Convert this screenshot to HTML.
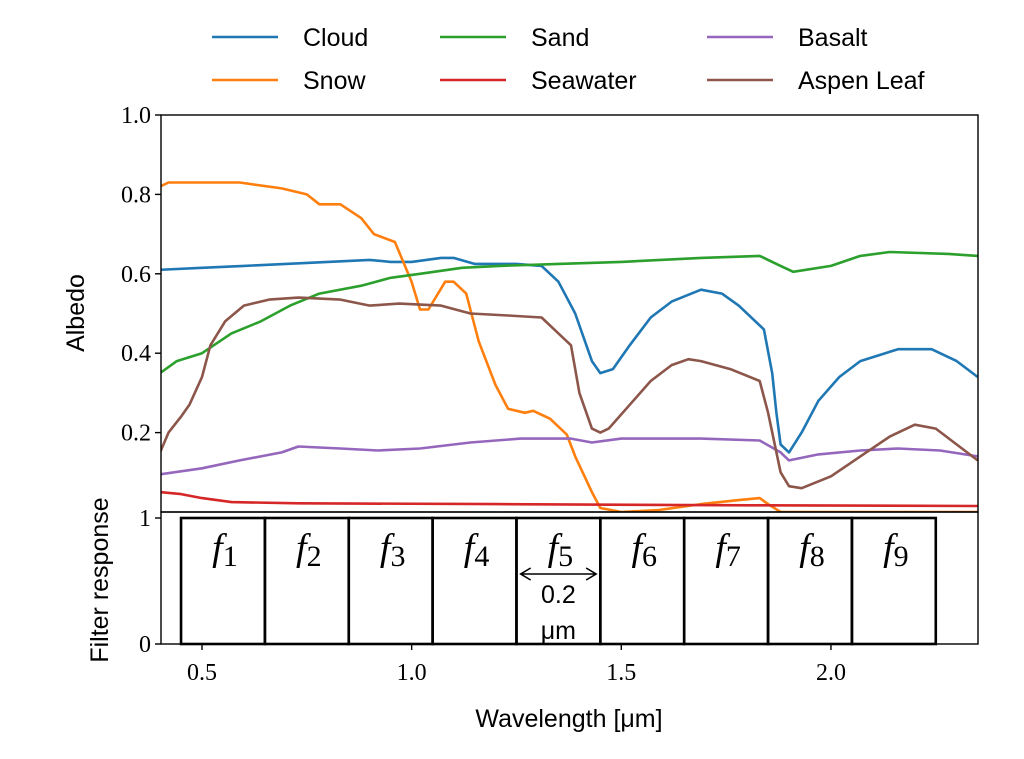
<!DOCTYPE html>
<html><head><meta charset="utf-8"><style>
body{margin:0;background:#fff}
svg{display:block}
.tk{font-family:"Liberation Serif",serif;font-size:24px;fill:#000}
.sn{font-family:"Liberation Sans",sans-serif;font-size:25px;fill:#000}
</style></head><body>
<svg id="c" width="1024" height="759" viewBox="0 0 1024 759" xmlns="http://www.w3.org/2000/svg"></svg>
<script>
const seriesNames=["Cloud","Snow","Sand","Seawater","Basalt","Aspen Leaf"];
const seriesColors=["#1f77b4","#ff7f0e","#2ca02c","#d62728","#9467bd","#8c564b"];
const cloudW=[0.40,0.50,0.60,0.70,0.80,0.90,0.95,1.00,1.07,1.10,1.15,1.25,1.31,1.35,1.39,1.43,1.45,1.48,1.52,1.57,1.62,1.69,1.74,1.78,1.84,1.86,1.87,1.88,1.90,1.93,1.97,2.02,2.07,2.16,2.24,2.30,2.35];
const cloudV=[0.61,0.615,0.62,0.625,0.63,0.635,0.63,0.63,0.64,0.64,0.625,0.625,0.62,0.58,0.50,0.38,0.35,0.36,0.42,0.49,0.53,0.56,0.55,0.52,0.46,0.35,0.25,0.17,0.15,0.20,0.28,0.34,0.38,0.41,0.41,0.38,0.34];
const snowW=[0.40,0.42,0.50,0.59,0.69,0.75,0.78,0.83,0.88,0.91,0.96,1.00,1.02,1.04,1.08,1.10,1.13,1.16,1.20,1.23,1.27,1.29,1.33,1.37,1.39,1.43,1.45,1.50,1.59,1.69,1.78,1.83,1.85,1.88,2.35];
const snowV=[0.82,0.83,0.83,0.83,0.815,0.80,0.775,0.775,0.74,0.70,0.68,0.58,0.51,0.51,0.58,0.58,0.55,0.43,0.32,0.26,0.25,0.255,0.235,0.195,0.14,0.05,0.01,0.0,0.005,0.02,0.03,0.035,0.02,0.0,0.0];
const sandW=[0.40,0.44,0.50,0.57,0.64,0.71,0.78,0.88,0.95,1.02,1.12,1.21,1.35,1.50,1.69,1.83,1.88,1.91,2.00,2.07,2.14,2.28,2.35];
const sandV=[0.35,0.38,0.40,0.45,0.48,0.52,0.55,0.57,0.59,0.60,0.615,0.62,0.625,0.63,0.64,0.645,0.62,0.605,0.62,0.645,0.655,0.65,0.645];
const seaW=[0.40,0.45,0.50,0.57,0.73,1.20,1.80,2.35];
const seaV=[0.05,0.045,0.035,0.025,0.022,0.02,0.017,0.015];
const basaltW=[0.40,0.50,0.59,0.69,0.73,0.83,0.92,1.02,1.14,1.26,1.38,1.43,1.50,1.69,1.83,1.88,1.90,1.97,2.07,2.16,2.26,2.35];
const basaltV=[0.095,0.11,0.13,0.15,0.165,0.16,0.155,0.16,0.175,0.185,0.185,0.175,0.185,0.185,0.18,0.15,0.13,0.145,0.155,0.16,0.155,0.14];
const aspenW=[0.40,0.42,0.45,0.47,0.50,0.52,0.555,0.60,0.66,0.73,0.83,0.90,0.97,1.07,1.14,1.23,1.31,1.34,1.38,1.40,1.43,1.45,1.47,1.52,1.57,1.62,1.66,1.69,1.76,1.83,1.85,1.88,1.90,1.93,2.00,2.07,2.14,2.20,2.25,2.30,2.35];
const aspenV=[0.15,0.20,0.24,0.27,0.34,0.42,0.48,0.52,0.535,0.54,0.535,0.52,0.525,0.52,0.50,0.495,0.49,0.46,0.42,0.30,0.21,0.20,0.21,0.27,0.33,0.37,0.385,0.38,0.36,0.33,0.25,0.10,0.065,0.06,0.09,0.14,0.19,0.22,0.21,0.17,0.13];
const xTicks=[0.5,1.0,1.5,2.0];
const xTickLabels=["0.5","1.0","1.5","2.0"];
const yTicks=[0.2,0.4,0.6,0.8,1.0];
const yTickLabels=["0.2","0.4","0.6","0.8","1.0"];
const filterStarts=[0.45,0.65,0.85,1.05,1.25,1.45,1.65,1.85,2.05];
const filterLabels=["1","2","3","4","5","6","7","8","9"];

const NS="http://www.w3.org/2000/svg";
const svg=document.getElementById('c');
const L=161,R=978,T=115,B=512,FT=518,FB=644;
const xs=w=>202+(w-0.5)*419.3;
const ys=a=>B-(B-T)*a;
const fy=v=>FB-(FB-FT)*v;
function mk(tag,at,parent){const e=document.createElementNS(NS,tag);for(const k in at)e.setAttribute(k,at[k]);(parent||svg).appendChild(e);return e;}

// series
const allW=[cloudW,snowW,sandW,seaW,basaltW,aspenW];
const allV=[cloudV,snowV,sandV,seaV,basaltV,aspenV];
const clip=mk('clipPath',{id:'cp'});mk('rect',{x:L,y:T,width:R-L,height:B-T},clip);
for(let s=0;s<6;s++){
  const d=allW[s].map((w,i)=>(i?'L':'M')+xs(w).toFixed(1)+','+ys(allV[s][i]).toFixed(1)).join(' ');
  const p=mk('path',{d:d,fill:'none',stroke:seriesColors[s],'stroke-width':2.6,'stroke-linejoin':'round','clip-path':'url(#cp)'});
  
  
}
// top frame
const f1=mk('rect',{x:L,y:T,width:R-L,height:B-T,fill:'none',stroke:'#000','stroke-width':1.4});


yTicks.forEach((v,i)=>{
  mk('line',{x1:L-6,x2:L,y1:ys(v),y2:ys(v),stroke:'#000','stroke-width':1.4});
  const t=mk('text',{x:L-10,y:ys(v)+8,'text-anchor':'end',class:'tk'});t.textContent=yTickLabels[i];
  
  
});
// bottom frame
const f2=mk('rect',{x:L,y:B,width:R-L,height:FB-B,fill:'none',stroke:'#000','stroke-width':1.4});


[[0,'0'],[1,'1']].forEach(([v,l])=>{
  mk('line',{x1:L-6,x2:L,y1:fy(v),y2:fy(v),stroke:'#000','stroke-width':1.4});
  const t=mk('text',{x:L-10,y:fy(v)+8,'text-anchor':'end',class:'tk'});t.textContent=l;
  
  
});
filterStarts.forEach((w,i)=>{
  const r=mk('rect',{x:xs(w),y:fy(1),width:xs(w+0.2)-xs(w),height:fy(0)-fy(1),fill:'none',stroke:'#000','stroke-width':2.6});
  
  
  const t=mk('text',{x:(xs(w)+xs(w+0.2))/2+2,y:560,'text-anchor':'middle','font-family':'Liberation Serif,serif','font-size':'38px','font-style':'italic'});
  
  
  t.textContent='f';
  const sub=document.createElementNS(NS,'tspan');sub.setAttribute('font-style','normal');sub.setAttribute('font-size','30px');sub.setAttribute('dy','6');sub.textContent=filterLabels[i];t.appendChild(sub);
});
xTicks.forEach((v,i)=>{
  mk('line',{x1:xs(v),x2:xs(v),y1:FB,y2:FB+6,stroke:'#000','stroke-width':1.4});
  const t=mk('text',{x:xs(v),y:FB+36,'text-anchor':'middle',class:'tk'});t.textContent=xTickLabels[i];
  
  
});
// width annotation
const ax1=xs(1.26),ax2=xs(1.44);
const ar=mk('path',{d:`M${ax1},574 L${ax2},574 M${ax1+10},568 L${ax1},574 L${ax1+10},580 M${ax2-10},568 L${ax2},574 L${ax2-10},580`,fill:'none',stroke:'#000','stroke-width':1.6});


let t=mk('text',{x:(ax1+ax2)/2,y:603,'text-anchor':'middle',class:'sn','font-size':'24px'});t.textContent='0.2';


t=mk('text',{x:(ax1+ax2)/2,y:639,'text-anchor':'middle',class:'sn','font-size':'24px'});t.textContent='μm';


// axis titles
t=mk('text',{x:0,y:0,'text-anchor':'middle',class:'sn',transform:'translate(84,313) rotate(-90)','font-size':'26px'});t.textContent='Albedo';


t=mk('text',{x:0,y:0,'text-anchor':'middle',class:'sn',transform:'translate(108,580) rotate(-90)','font-size':'26px'});t.textContent='Filter response';


t=mk('text',{x:569,y:727,'text-anchor':'middle',class:'sn','font-size':'26px'});t.textContent='Wavelength [μm]';


// legend
const legX=[212,440,707],legY=[37,80];
const order=[[0,2,4],[1,3,5]];
order.forEach((row,ri)=>row.forEach((s,ci)=>{
  const g=mk('g',{});
  
  
  mk('line',{x1:legX[ci],x2:legX[ci]+66,y1:legY[ri],y2:legY[ri],stroke:seriesColors[s],'stroke-width':2.6},g);
  const lt=mk('text',{x:legX[ci]+91,y:legY[ri]+9,class:'sn'},g);lt.textContent=seriesNames[s];
}));
</script>
</body></html>
